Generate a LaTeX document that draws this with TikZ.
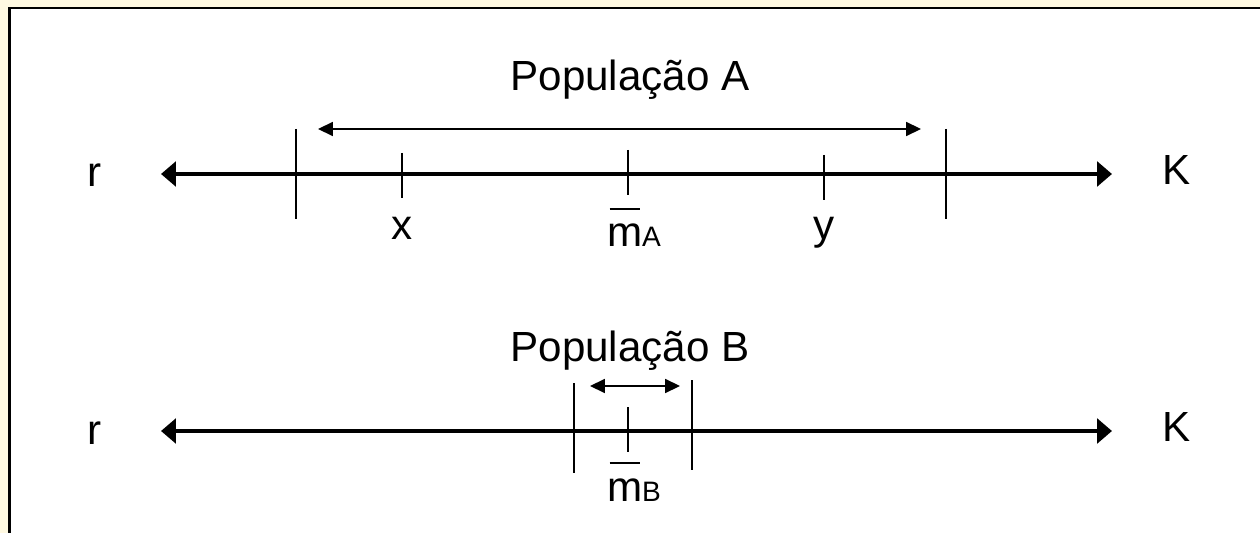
\documentclass[tikz,border=0pt]{standalone}
\usepackage{fontspec}
\setmainfont{Liberation Sans}
\usetikzlibrary{arrows.meta}

\definecolor{paper}{HTML}{FFF9E1}
% m with a bar over it and a small letter after it
\newcommand{\meanof}[1]{\makebox[0pt][l]{\hspace{0.06em}\rule[0.88em]{0.72em}{0.045em}}m{\fontsize{16}{18}\selectfont #1}}

\begin{document}
\begin{tikzpicture}[x=0.02cm,y=-0.02cm,
        axis/.style={line width=2pt,{Triangle[length=8.5pt,width=14pt]}-{Triangle[length=8.5pt,width=14pt]}},
        spanarrow/.style={line width=0.9pt,{Triangle[length=8.5pt,width=8pt]}-{Triangle[length=8.5pt,width=8pt]}},
        tick/.style={line width=1pt},
        lbl/.style={anchor=base,inner sep=0pt,font=\fontsize{24}{28}\selectfont}]
        \useasboundingbox (0,0) rectangle (1260,533);
        \fill[paper] (0,0) rectangle (1260,533);
        \fill[white] (9.5,8) rectangle (1260,533);
        \draw[line width=1.5pt] (9.5,533) -- (9.5,8) -- (1260,8);

        % population A
        \node[lbl] (popA) at (630,91) {População A};
        \node[lbl] (rA) at (95,187) {r};
        \node[lbl] (KA) at (1177,185) {K};
        \coordinate (aL) at (161,174);
        \coordinate (aR) at (1112,174);
        \draw[axis] (aL)--(aR);
        \coordinate (lo) at (296,129);
        \coordinate (hi) at (946,129);
        \draw[tick] (lo)--++(0,90);
        \draw[tick] (hi)--++(0,90);
        \coordinate (sL) at (318,129);
        \coordinate (sR) at (921,129);
        \draw[spanarrow] (sL)--(sR);
        \coordinate (tx) at (402,153);
        \coordinate (tm) at (628,150);
        \coordinate (ty) at (824,155);
        \draw[tick] (tx)--++(0,45);
        \draw[tick] (tm)--++(0,45);
        \draw[tick] (ty)--++(0,45);
        \node[lbl] (x) at (402,240) {x};
        \node[lbl] (mA) at (634,247) {\meanof{A}};
        \node[lbl] (y) at (824,240) {y};

        % population B
        \node[lbl] (popB) at (630,361) {População B};
        \node[lbl] (rB) at (95,444) {r};
        \node[lbl] (KB) at (1177,441) {K};
        \coordinate (bL) at (161,431);
        \coordinate (bR) at (1112,431);
        \draw[axis] (bL)--(bR);
        \coordinate (loB) at (574,383);
        \coordinate (hiB) at (692,380);
        \draw[tick] (loB)--++(0,90);
        \draw[tick] (hiB)--++(0,90);
        \coordinate (sLB) at (590,386);
        \coordinate (sRB) at (680,386);
        \draw[spanarrow] (sLB)--(sRB);
        \coordinate (tmB) at (628,407);
        \draw[tick] (tmB)--++(0,45);
        \node[lbl] (mB) at (634,501) {\meanof{B}};
    \end{tikzpicture}
\end{document}
